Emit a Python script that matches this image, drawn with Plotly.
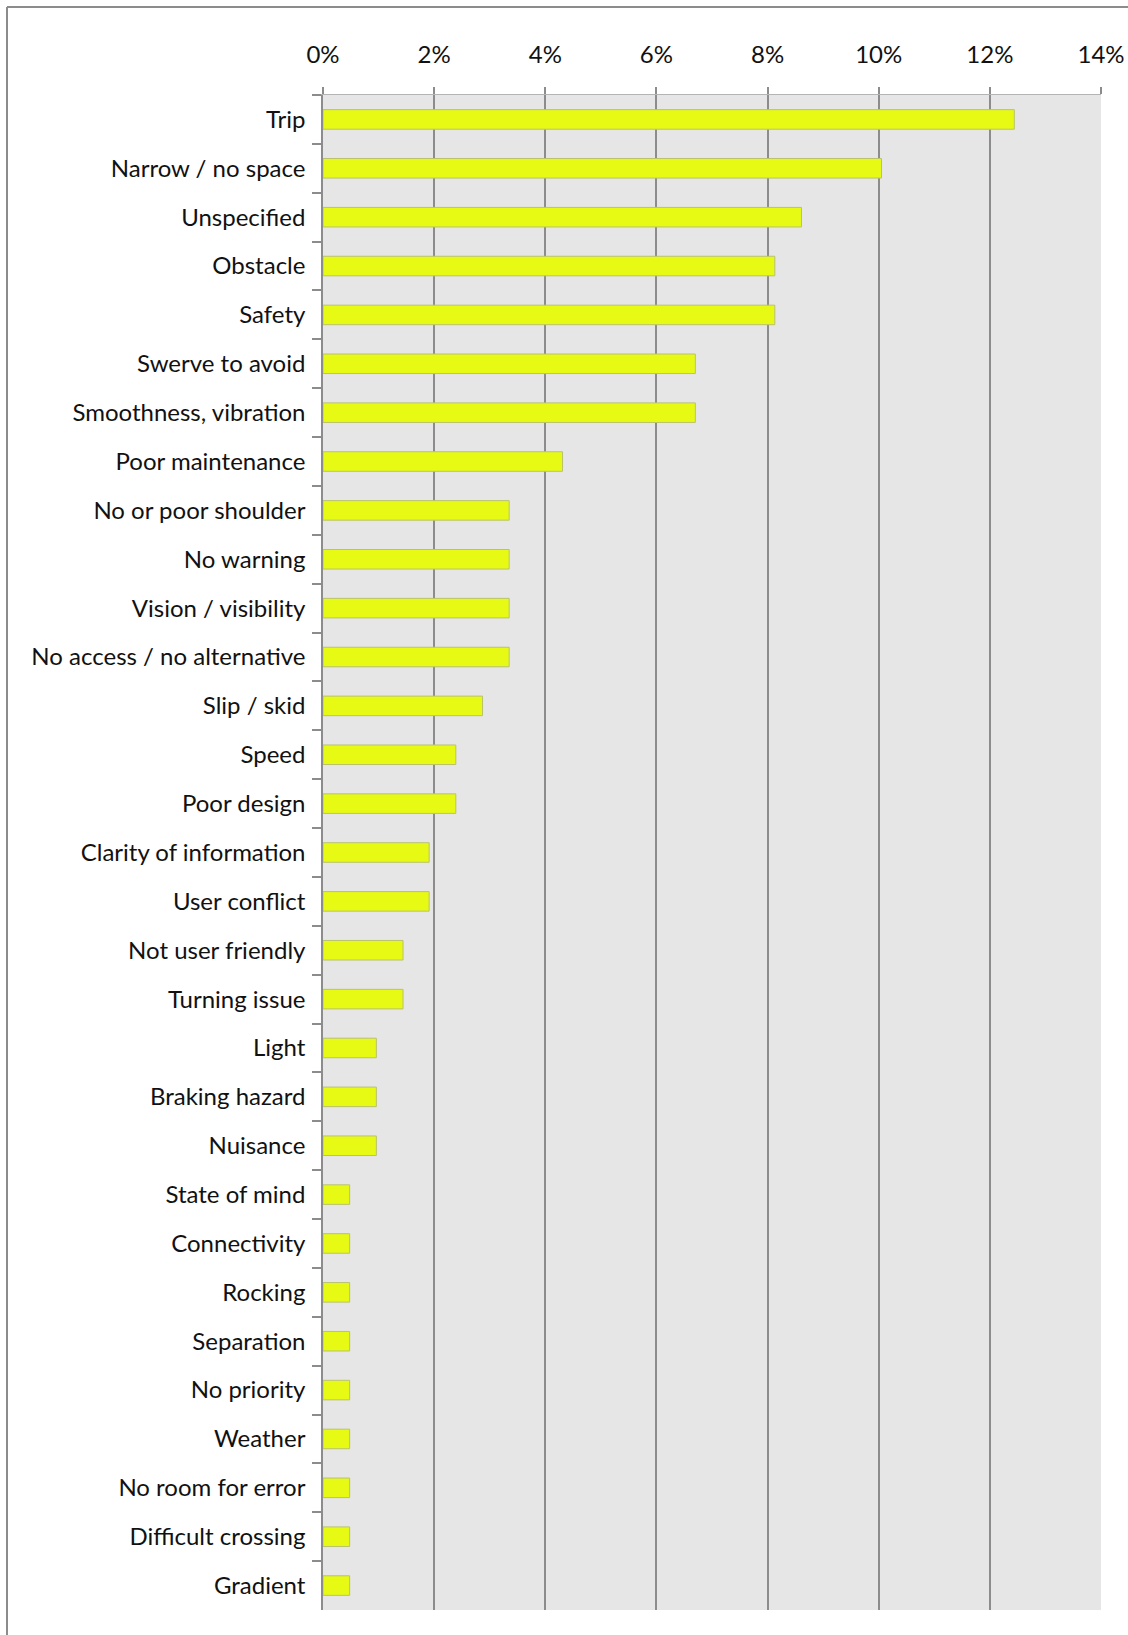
import plotly.graph_objects as go

# Reported issue categories and their share of all responses (%)
categories = [
    "Trip", "Narrow / no space", "Unspecified", "Obstacle", "Safety",
    "Swerve to avoid", "Smoothness, vibration", "Poor maintenance",
    "No or poor shoulder", "No warning", "Vision / visibility",
    "No access / no alternative", "Slip / skid", "Speed", "Poor design",
    "Clarity of information", "User conflict", "Not user friendly",
    "Turning issue", "Light", "Braking hazard", "Nuisance", "State of mind",
    "Connectivity", "Rocking", "Separation", "No priority", "Weather",
    "No room for error", "Difficult crossing", "Gradient",
]
shares = [
    12.44, 10.05, 8.61, 8.13, 8.13,
    6.70, 6.70, 4.31,
    3.35, 3.35, 3.35,
    3.35, 2.87, 2.39, 2.39,
    1.91, 1.91, 1.44,
    1.44, 0.96, 0.96, 0.96, 0.48,
    0.48, 0.48, 0.48, 0.48, 0.48,
    0.48, 0.48, 0.48,
]
tick_values = [0, 2, 4, 6, 8, 10, 12, 14]
tick_labels = ["0%", "2%", "4%", "6%", "8%", "10%", "12%", "14%"]

W, H = 1128, 1635
ML, MR, MT, MB = 323, 27, 95, 25

fig = go.Figure(
    go.Bar(
        x=shares,
        y=categories,
        orientation="h",
        width=0.4,
        marker=dict(color="#E6FA14", line=dict(color="#B9C26E", width=1)),
        hoverinfo="x+y",
    )
)

font = dict(family="Lato, 'Open Sans', sans-serif", size=24, color="#111111")

fig.update_layout(
    width=W,
    height=H,
    margin=dict(l=ML, r=MR, t=MT, b=MB, autoexpand=False),
    paper_bgcolor="white",
    plot_bgcolor="#E6E6E6",
    showlegend=False,
    font=font,
    bargap=0.6,
    xaxis=dict(
        side="top",
        range=[0, 14],
        tickvals=tick_values,
        ticktext=tick_labels,
        showgrid=True,
        gridcolor="#8C8C8C",
        gridwidth=1.5,
        zeroline=False,
        showline=True,
        linecolor="#B4B4B4",
        linewidth=1,
        ticks="outside",
        ticklen=7,
        tickcolor="#8C8C8C",
        tickwidth=1.5,
        ticklabelstandoff=14,
        tickfont=font,
        automargin=False,
        fixedrange=True,
    ),
    yaxis=dict(
        type="category",
        autorange="reversed",
        tickson="boundaries",
        ticks="outside",
        ticklen=9,
        tickcolor="#8C8C8C",
        tickwidth=1.5,
        showline=True,
        linecolor="#8C8C8C",
        linewidth=1.5,
        showgrid=False,
        ticklabelstandoff=11,
        tickfont=font,
        automargin=False,
        fixedrange=True,
    ),
)

# Frame around the chart (top and left edges fall inside the page)
pw = W - ML - MR
ph = H - MT - MB
x0 = (7 - ML) / pw
y1 = 1 + (MT - 7) / ph
fig.add_shape(
    type="line", xref="paper", yref="paper",
    x0=x0, x1=(W - ML) / pw, y0=y1, y1=y1,
    line=dict(color="#8C8C8C", width=2),
)
fig.add_shape(
    type="line", xref="paper", yref="paper",
    x0=x0, x1=x0, y0=y1, y1=-MB / ph,
    line=dict(color="#8C8C8C", width=2),
)

fig.write_html("out.html")
